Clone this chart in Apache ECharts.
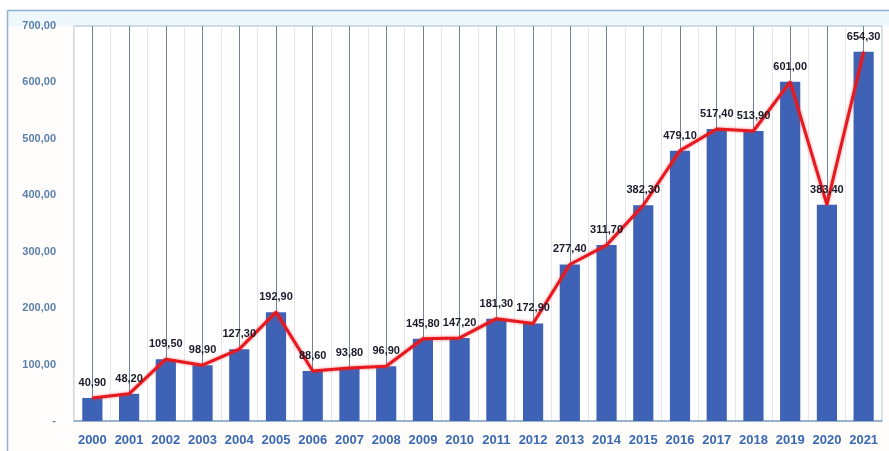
<!DOCTYPE html>
<html>
<head>
<meta charset="utf-8">
<script src="https://cdn.jsdelivr.net/npm/echarts@6/dist/echarts.min.js"></script>
<style>
  html, body { margin: 0; padding: 0; background: #ffffff; }
  #chart { width: 889px; height: 451px; }
</style>
</head>
<body>
<div id="chart"></div>
<script>
// Yearly values, 2000–2021
const years = ['2000', '2001', '2002', '2003', '2004', '2005', '2006', '2007', '2008', '2009', '2010',
  '2011', '2012', '2013', '2014', '2015', '2016', '2017', '2018', '2019', '2020', '2021'];
const values = [40.9, 48.2, 109.5, 98.9, 127.3, 192.9, 88.6, 93.8, 96.9, 145.8, 147.2,
  181.3, 172.9, 277.4, 311.7, 382.3, 479.1, 517.4, 513.9, 601.0, 383.4, 654.3];
const yTicks = { min: 0, max: 700, step: 100 };

// Comma decimal formatting, zero shown as a dash
const fmt = v => v === 0 ? '-' : v.toFixed(2).replace('.', ',');

// Half-category helper axis: its split lines fall on both category edges and centres
const halfSlots = [];
for (let i = 0; i < years.length * 2; i++) halfSlots.push('h' + i);

const chart = echarts.init(document.getElementById('chart'), null, { renderer: 'canvas' });

chart.setOption({
  backgroundColor: '#ffffff',
  animation: false,
  graphic: [
    // outer frame and light header band
    { type: 'rect', left: 7, top: 10, z: -10, shape: { width: 882, height: 441 },
      style: { fill: '#fffdfb', stroke: 'rgba(0,0,0,0)' } },
    { type: 'rect', left: 8, top: 11, z: -9, shape: { width: 881, height: 15 },
      style: { fill: '#eef7fc' } },
    { type: 'line', z: -8, shape: { x1: 7.5, y1: 10.5, x2: 889, y2: 10.5 },
      style: { stroke: '#8fb2d2', lineWidth: 1.5 } },
    { type: 'line', z: -8, shape: { x1: 7.5, y1: 10.5, x2: 7.5, y2: 451 },
      style: { stroke: '#8fb2d2', lineWidth: 1.5 } }
  ],
  grid: {
    left: 74, right: 7, top: 26, bottom: 30,
    show: true, backgroundColor: '#ffffff', borderColor: '#a9b9ca', borderWidth: 1
  },
  xAxis: [
    {
      type: 'category',
      data: years,
      axisLine: { lineStyle: { color: '#86a6c6', width: 1.5 } },
      axisTick: { show: false },
      splitLine: { show: false },
      axisLabel: {
        color: '#3a68b2', fontFamily: 'Liberation Sans, Arial, sans-serif',
        fontWeight: 'bold', fontSize: 13, margin: 13, interval: 0
      }
    },
    {
      type: 'category',
      data: halfSlots,
      position: 'bottom',
      axisLine: { show: false },
      axisTick: { show: false },
      axisLabel: { show: false },
      splitLine: {
        show: true, interval: 0,
        lineStyle: { color: ['#e4e6ea', '#6f849c'], width: 1 }
      }
    }
  ],
  yAxis: {
    type: 'value',
    min: yTicks.min, max: yTicks.max, interval: yTicks.step,
    axisLine: { show: false },
    axisTick: { show: false },
    splitLine: { show: false },
    axisLabel: {
      formatter: fmt, color: '#5b80aa', fontFamily: 'Liberation Sans, Arial, sans-serif',
      fontWeight: 'bold', fontSize: 11, margin: 18
    }
  },
  series: [
    {
      type: 'bar',
      data: values,
      xAxisIndex: 0,
      barWidth: '55%',
      itemStyle: { color: '#3e63b6' },
      z: 2
    },
    {
      type: 'line',
      data: values,
      xAxisIndex: 0,
      symbol: 'circle',
      symbolSize: 1,
      showSymbol: true,
      itemStyle: { color: '#e5191f' },
      lineStyle: { color: '#e5191f', width: 3, shadowBlur: 3, shadowColor: 'rgba(240,40,40,0.6)' },
      label: {
        show: true, position: 'top', distance: 9,
        formatter: p => fmt(p.value),
        color: '#1a1a2a', fontFamily: 'Liberation Sans, Arial, sans-serif',
        fontWeight: 'bold', fontSize: 11
      },
      labelLayout: { hideOverlap: false },
      z: 3
    }
  ]
});
</script>
</body>
</html>
